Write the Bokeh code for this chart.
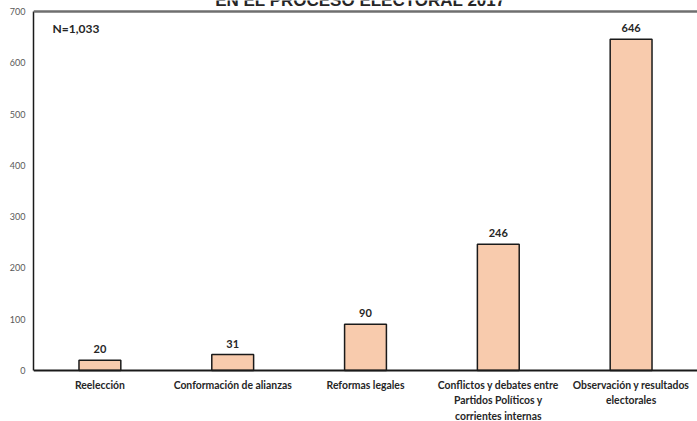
from bokeh.plotting import figure
from bokeh.models import FactorRange, Range1d, FixedTicker, Label, Span, ColumnDataSource
from bokeh.core.properties import value
from bokeh.embed import file_html
from bokeh.resources import INLINE

categories = ["Reelección", "Conformación de alianzas", "Reformas legales",
              "Conflictos y debates entre Partidos Políticos y corrientes internas",
              "Observación y resultados electorales"]
category_lines = [["Reelección"], ["Conformación de alianzas"], ["Reformas legales"],
                  ["Conflictos y debates entre", "Partidos Políticos y", "corrientes internas"],
                  ["Observación y resultados", "electorales"]]
values = [20, 31, 90, 246, 646]
value_labels = [str(v) for v in values]
y_ticks = [0, 100, 200, 300, 400, 500, 600, 700]
title_text = "EN EL PROCESO ELECTORAL 2017"
n_text = "N=1,033"

W, H = 697, 421
LEFT = 33
# pixel layout of the value axis: 700 sits 11px from the top, 0 sits 370px from the top
PX_TOP, PX_ZERO = 11, 370
ppu = (PX_ZERO - PX_TOP) / 700.0
y_start = -(H - PX_ZERO) / ppu
y_end = 700 + PX_TOP / ppu

p = figure(width=W, height=H, output_backend="svg", toolbar_location=None,
           x_range=FactorRange(*categories), y_range=Range1d(y_start, y_end),
           min_border_left=LEFT, min_border_right=0, min_border_top=0, min_border_bottom=0)
p.outline_line_color = None
p.xgrid.grid_line_color = None
p.ygrid.grid_line_color = None
p.xaxis.visible = False

src = ColumnDataSource(dict(x=categories, top=values, lab=value_labels))
p.vbar(x="x", top="top", width=0.315, source=src, fill_color="#F8CBAD",
       line_color="#1a1a1a", line_width=1.5)
p.text(x="x", y="top", text="lab", source=src, y_offset=-7,
       text_align="center", text_baseline="bottom",
       text_font=value("Lato"), text_font_style="bold", text_font_size="11px",
       text_color="#262626")

# category names, line by line, below the baseline
lx, ly, lt, loff = [], [], [], []
for cat, lines in zip(categories, category_lines):
    for j, line in enumerate(lines):
        lx.append(cat)
        ly.append(0)
        lt.append(line)
        loff.append(14 + 15.5 * j)
lab_src = ColumnDataSource(dict(x=lx, y=ly, t=lt, off=loff))
p.text(x="x", y="y", text="t", y_offset="off", source=lab_src,
       text_align="center", text_baseline="middle",
       text_font=value("Lato"), text_font_style="bold", text_font_size="10.4px",
       text_color="#262626")

p.add_layout(Span(location=700, dimension="width", line_color="#6f6f6f", line_width=2.5))
p.add_layout(Span(location=0, dimension="width", line_color="#1a1a1a", line_width=2))

# y axis
p.yaxis.ticker = FixedTicker(ticks=y_ticks)
p.yaxis.bounds = (0, 700)
p.yaxis.major_tick_line_color = None
p.yaxis.major_tick_out = 0
p.yaxis.major_tick_in = 0
p.yaxis.minor_tick_line_color = None
p.yaxis.axis_line_color = "#1a1a1a"
p.yaxis.axis_line_width = 1.5
p.yaxis.major_label_text_font = "Lato"
p.yaxis.major_label_text_font_size = "9px"
p.yaxis.major_label_text_color = "#595959"
p.yaxis.major_label_standoff = 8

cat_px = (W - LEFT) / len(categories)
p.add_layout(Label(x=(52 - LEFT) / cat_px, y=700 - 17 / ppu, text=n_text,
                   text_font="Lato", text_font_style="bold", text_font_size="12px",
                   text_color="#262626", text_baseline="middle", text_align="left"))
p.add_layout(Label(x=(360 - LEFT) / cat_px, y=700 + 11 / ppu, text=title_text,
                   text_font="Liberation Sans", text_font_style="bold", text_font_size="17px",
                   text_color="#262626", text_baseline="alphabetic", text_align="center"))

open("out.html", "w").write(file_html(p, INLINE))
